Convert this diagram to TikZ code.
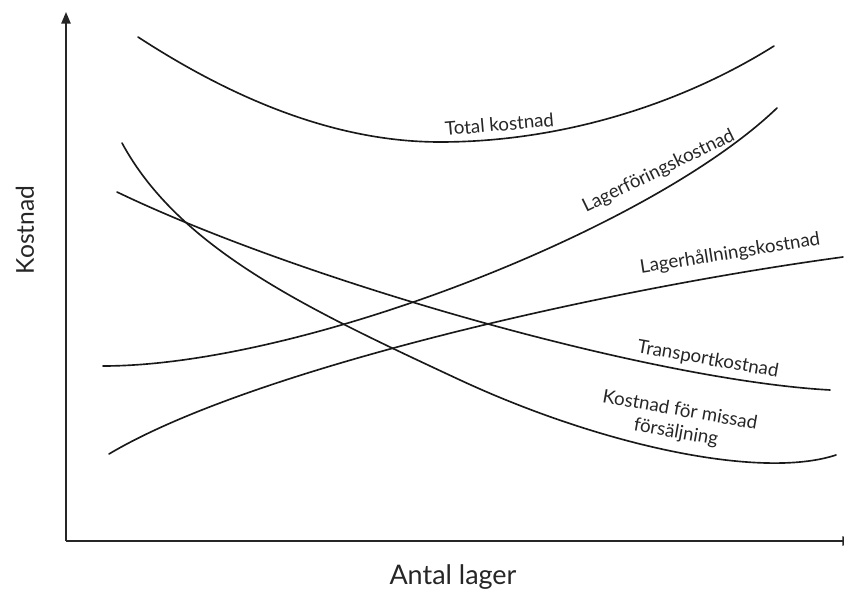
\documentclass[tikz,border=0pt]{standalone}
\usepackage{fontspec}
\setmainfont{Lato}
\usetikzlibrary{arrows.meta}
\begin{document}
\begin{tikzpicture}[x=0.03cm, y=-0.03cm,
  axis/.style={line width=1.4pt, black!85},
  cost/.style={line width=1.4pt, black!90, line cap=round},
  curvelabel/.style={font=\fontsize{16}{18}\selectfont, text=black!85, inner sep=0pt, anchor=base},
  axislabel/.style={text=black!85, inner sep=0pt}]
  \useasboundingbox (0,0) rectangle (844,599);

  % axes
  \coordinate (origin) at (66,541);
  \coordinate (ytop) at (66,12);
  \coordinate (xend) at (854,541);
  \draw[axis, -{Triangle[length=10pt, width=8pt]}] (origin) -- (ytop);
  \draw[axis, -{Triangle[length=10pt, width=8pt]}] (origin) -- (xend);
  \node[axislabel, font=\fontsize{23}{25}\selectfont] (xlabel) at (453,577) {Antal lager};
  \node[axislabel, font=\fontsize{21}{23}\selectfont, rotate=90] (ylabel) at (25,230) {Kostnad};

  % total cost
  \draw[cost] (138,37) .. controls (250,110) and (350,142) .. (440,142)
                       .. controls (560,142) and (680,105) .. (774,46);
  % inventory carrying cost
  \draw[cost] (103,366) .. controls (300,366) and (650,230) .. (777,108);
  % warehousing cost
  \draw[cost] (109,454) .. controls (250,370) and (600,290) .. (843,257);
  % transport cost
  \draw[cost] (117,192) .. controls (300,280) and (650,380) .. (830,390);
  % cost of lost sales
  \draw[cost] (122,143) .. controls (180,250) and (310,310) .. (460,380)
                       .. controls (600,445) and (760,480) .. (836,455);

  % curve labels
  \node[curvelabel, rotate=5] (ltotal) at (500,131) {Total kostnad};
  \node[curvelabel, rotate=26] (lforing) at (661,176) {Lagerföringskostnad};
  \node[curvelabel, rotate=9] (lhallning) at (731,259) {Lagerhållningskostnad};
  \node[curvelabel, rotate=-10] (ltransport) at (707,365) {Transportkostnad};
  \node[curvelabel, rotate=-10] (lmissad) at (679,416) {Kostnad för missad};
  \node[curvelabel, rotate=-10] (lmissadb) at (675,438) {försäljning};
\end{tikzpicture}
\end{document}
